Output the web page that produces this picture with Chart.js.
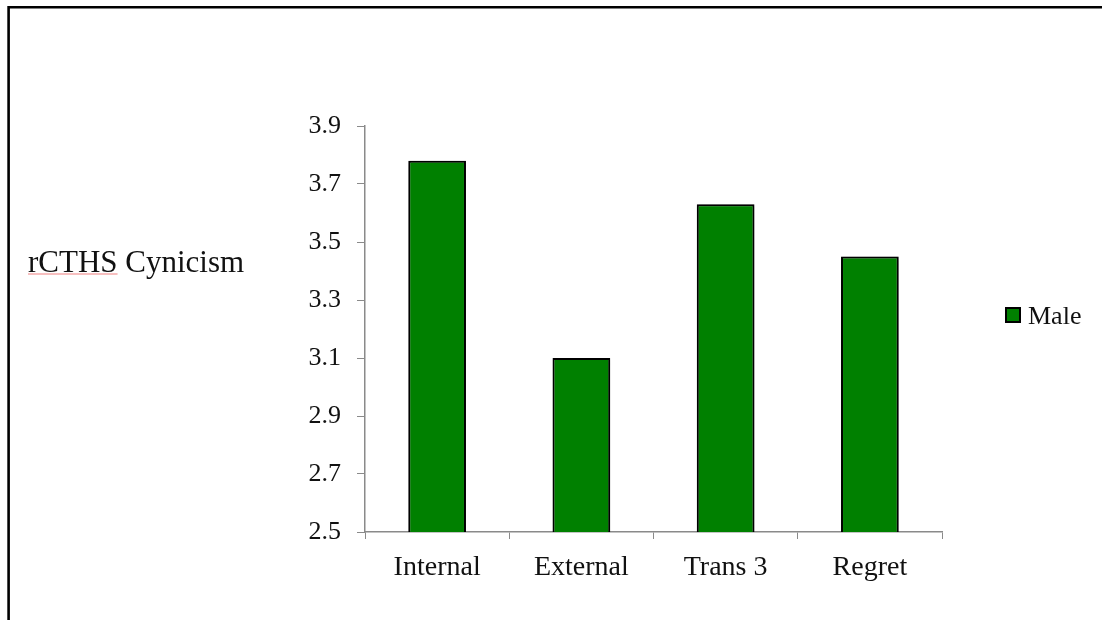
<!DOCTYPE html>
<html>
<head>
<meta charset="utf-8">
<title>rCTHS Cynicism</title>
<script src="https://cdn.jsdelivr.net/npm/chart.js@4/dist/chart.umd.min.js"></script>
<style>
  html, body { margin: 0; padding: 0; background: #ffffff; }
  #wrap { width: 1102px; height: 620px; position: relative; }
  canvas { display: block; }
</style>
</head>
<body>
<div id="wrap"><canvas id="chart" width="1102" height="620"></canvas></div>
<script>
// Categories, series and axis ticks
const categories = ['Internal', 'External', 'Trans 3', 'Regret'];
const seriesName = 'Male';
const maleValues = [3.78, 3.10, 3.63, 3.45];
const yTickValues = [2.5, 2.7, 2.9, 3.1, 3.3, 3.5, 3.7, 3.9];
const yAxisTitle = 'rCTHS Cynicism';

const FONT = '"Liberation Serif", "Times New Roman", serif';
const AXIS_GREY = '#8a8a8a';

// Outer frame (top and left edges of the text box the chart sits in)
const framePlugin = {
  id: 'frame',
  beforeDraw(chart) {
    const ctx = chart.ctx;
    ctx.save();
    ctx.fillStyle = '#ffffff';
    ctx.fillRect(0, 0, chart.width, chart.height);
    ctx.strokeStyle = '#000000';
    ctx.lineWidth = 2.6;
    ctx.beginPath();
    ctx.moveTo(chart.width, 7.3);
    ctx.lineTo(8.6, 7.3);
    ctx.lineTo(8.6, chart.height);
    ctx.stroke();
    ctx.restore();
  }
};

// Soft drop shadow under the bars
const barShadowPlugin = {
  id: 'barShadow',
  beforeDatasetsDraw(chart) {
    const ctx = chart.ctx;
    ctx.save();
    ctx.shadowColor = 'rgba(0,0,0,0.35)';
    ctx.shadowBlur = 4;
    ctx.shadowOffsetX = 1;
    ctx.shadowOffsetY = 1;
  },
  afterDatasetsDraw(chart) {
    chart.ctx.restore();
  }
};

// Horizontal axis title on the left and the series key on the right
const sideTextPlugin = {
  id: 'sideText',
  afterDraw(chart) {
    const ctx = chart.ctx;
    const area = chart.chartArea;
    ctx.save();

    // axis title, with the spell-check underline under its first word
    ctx.font = '31px ' + FONT;
    ctx.fillStyle = '#111111';
    ctx.textAlign = 'left';
    ctx.textBaseline = 'alphabetic';
    const tx = 28, ty = 272;
    ctx.fillText(yAxisTitle, tx, ty);
    const firstWord = yAxisTitle.split(' ')[0];
    const w = ctx.measureText(firstWord).width;
    ctx.strokeStyle = '#f08080';
    ctx.lineWidth = 1.2;
    ctx.beginPath();
    ctx.moveTo(tx, ty + 2);
    ctx.lineTo(tx + w, ty + 2);
    ctx.stroke();

    // legend entry
    chart.data.datasets.forEach((ds, i) => {
      const bx = area.right + 64;
      const by = 308 + i * 30;
      ctx.fillStyle = ds.backgroundColor;
      ctx.fillRect(bx, by, 14, 14);
      ctx.strokeStyle = ds.borderColor;
      ctx.lineWidth = 2;
      ctx.strokeRect(bx, by, 14, 14);
      ctx.font = '26px ' + FONT;
      ctx.fillStyle = '#111111';
      ctx.textBaseline = 'alphabetic';
      ctx.fillText(ds.label, bx + 22, by + 16);
    });
    ctx.restore();
  }
};

new Chart(document.getElementById('chart'), {
  type: 'bar',
  data: {
    labels: categories,
    datasets: [{
      label: seriesName,
      data: maleValues,
      backgroundColor: '#008000',
      borderColor: '#000000',
      borderWidth: 2,
      barPercentage: 0.4,
      categoryPercentage: 1.0
    }]
  },
  options: {
    responsive: false,
    animation: false,
    devicePixelRatio: 1,
    layout: { padding: { left: 0, right: 160, top: 126, bottom: 0 } },
    plugins: {
      legend: { display: false },
      tooltip: { enabled: false },
      title: { display: false }
    },
    scales: {
      x: {
        type: 'category',
        grid: {
          display: true,
          offset: true,
          drawOnChartArea: false,
          drawTicks: true,
          tickLength: 7,
          color: AXIS_GREY,
          lineWidth: 1
        },
        border: { display: true, color: AXIS_GREY, width: 1.5 },
        ticks: {
          color: '#111111',
          font: { family: FONT, size: 28 },
          padding: 12,
          maxRotation: 0,
          autoSkip: false
        },
        afterFit(scale) { scale.height = 88; }
      },
      y: {
        type: 'linear',
        min: yTickValues[0],
        max: yTickValues[yTickValues.length - 1],
        afterBuildTicks(scale) {
          scale.ticks = yTickValues.map(v => ({ value: v }));
        },
        grid: {
          display: true,
          drawOnChartArea: false,
          drawTicks: true,
          tickLength: 8,
          color: AXIS_GREY,
          lineWidth: 1
        },
        border: { display: true, color: AXIS_GREY, width: 1.5 },
        ticks: {
          color: '#111111',
          font: { family: FONT, size: 26 },
          padding: 16,
          callback: v => Number(v).toFixed(1)
        },
        afterFit(scale) { scale.width = 365; }
      }
    }
  },
  plugins: [framePlugin, barShadowPlugin, sideTextPlugin]
});
</script>
</body>
</html>
